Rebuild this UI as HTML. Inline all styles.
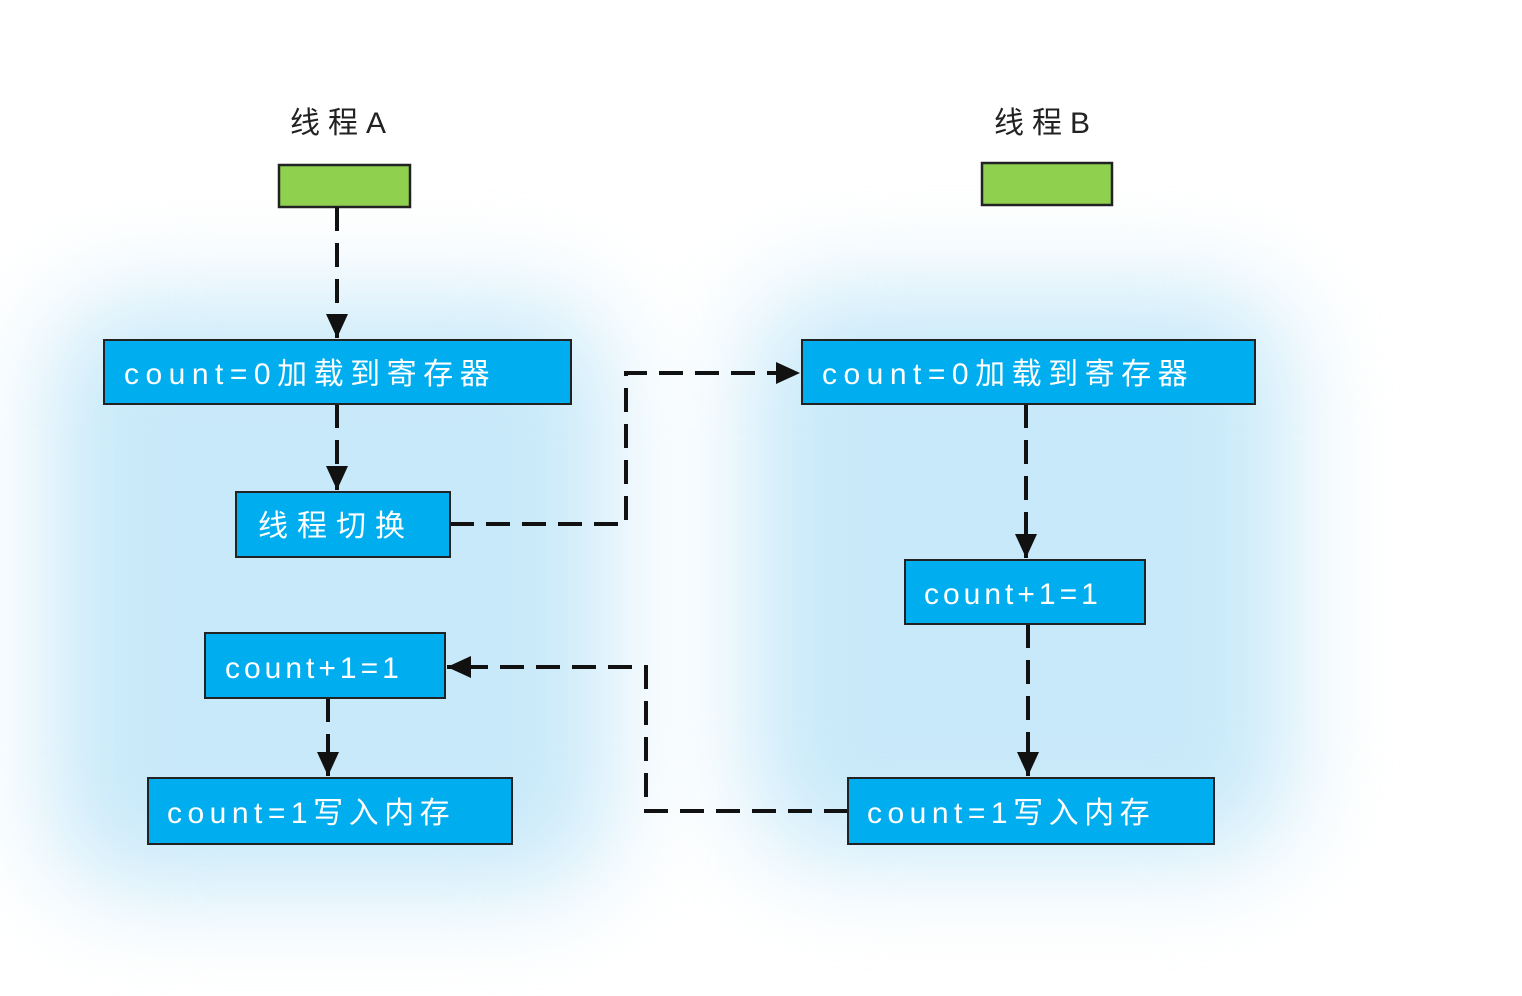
<!DOCTYPE html>
<html><head><meta charset="utf-8"><style>
html,body{margin:0;padding:0;background:#fff;width:1522px;height:996px;overflow:hidden;position:relative;font-family:"Liberation Sans","Noto Sans CJK SC",sans-serif}
.glow{position:absolute;background:#c8e9f9;filter:blur(50px);border-radius:80px}
svg{position:absolute;left:0;top:0}
</style></head><body>
<div class="glow" style="left:50px;top:300px;width:560px;height:590px"></div>
<div class="glow" style="left:750px;top:290px;width:540px;height:570px"></div>
<svg width="1522" height="996" viewBox="0 0 1522 996">
<defs>
<marker id="a2" markerWidth="26" markerHeight="22" refX="24" refY="11" orient="auto" markerUnits="userSpaceOnUse"><path d="M0,0 L24,11 L0,22 z" fill="#111"/></marker></defs>
<g font-size="30" fill="#222">
<text x="290" y="133" letter-spacing="8">线程A</text>
<text x="994" y="133" letter-spacing="8">线程B</text>
</g>
<rect x="279" y="165" width="131" height="42" fill="#8fd14f" stroke="#222" stroke-width="2.5"/>
<rect x="982" y="163" width="130" height="42" fill="#8fd14f" stroke="#222" stroke-width="2.5"/>
<g fill="none" stroke="#111" stroke-width="4" stroke-dasharray="24,12" marker-end="url(#a2)">
<path d="M337 207 V338"/>
<path d="M337 404 V490"/>
<path d="M450 524 H626 V373 H800"/>
<path d="M1026 404 V558"/>
<path d="M1028 624 V776"/>
<path d="M848 811 H646 V667 H447"/>
<path d="M328 698 V776"/>
</g>
<g fill="#00aeef" stroke="#222" stroke-width="2">
<rect x="104" y="340" width="467" height="64"/>
<rect x="802" y="340" width="453" height="64"/>
<rect x="236" y="492" width="214" height="65"/>
<rect x="205" y="633" width="240" height="65"/>
<rect x="148" y="778" width="364" height="66"/>
<rect x="905" y="560" width="240" height="64"/>
<rect x="848" y="778" width="366" height="66"/>
</g>
<g font-size="30" fill="#fff">
<text x="124" y="384" letter-spacing="6.5">count=0加载到寄存器</text>
<text x="822" y="384" letter-spacing="6.5">count=0加载到寄存器</text>
<text x="258" y="536" letter-spacing="9">线程切换</text>
<text x="225" y="678" letter-spacing="4">count+1=1</text>
<text x="167" y="823" letter-spacing="5.5">count=1写入内存</text>
<text x="924" y="604" letter-spacing="4">count+1=1</text>
<text x="867" y="823" letter-spacing="5.5">count=1写入内存</text>
</g>
</svg>
</body></html>
